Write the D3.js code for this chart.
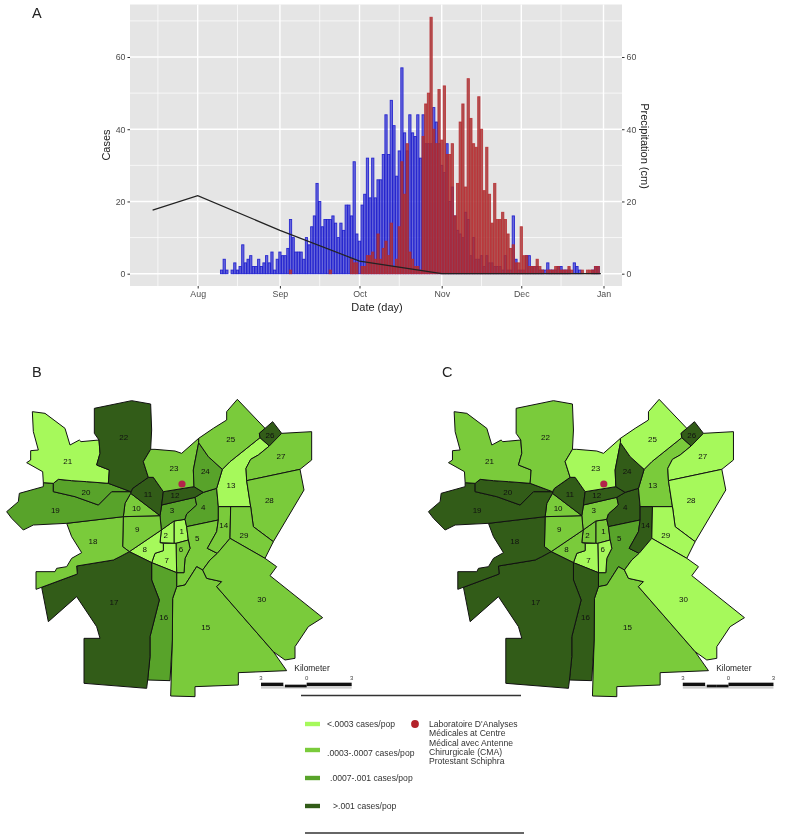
<!DOCTYPE html>
<html><head><meta charset="utf-8"><style>html,body{margin:0;padding:0;background:#fff}svg{display:block;filter:blur(.3px)}text{font-family:"Liberation Sans",Arial,sans-serif}</style>
<script src="https://cdn.jsdelivr.net/npm/d3@7"></script></head><body><script>
// daily counts; index 0 = first day of each array's start date
const blueStart = "2016-08-10";
const blueCases = [1,4,1,0,1,3,1,2,8,3,4,5,2,2,4,2,3,5,3,6,1,4,6,5,5,7,15,10,6,6,6,4,10,8,13,16,25,20,13,15,15,15,16,14,10,14,12,19,19,16,31,11,9,19,22,32,21,32,21,26,
 26,33,44,33,48,41,27,34,57,39,34,44,39,38,44,32,44,36,36,36,46,42,36,30,28,36,20,24,16,12,11,10,17,15,5,10,4,4,5,2,5,3,3,2,2,2,1,5,1,1,16,4,1,1,1,5,5,2,2,2,1,1,1,3,1,1,1,2,2,1,1,1,0,3,2,1,0,0,0,0,1,2,2];
const redStart = "2016-09-05";
const redCases = [1,0,0,0,0,0,0,0,0,0,0,0,0,0,0,1,0,0,0,0,0,0,0,4,3,3,0,2,2,5,5,6,4,11,4,7,9,5,14,2,4,13,31,22,36,6,4,2,2,1,
 38,47,50,71,40,36,51,37,52,33,33,36,16,25,42,47,24,54,43,36,35,49,40,23,35,22,14,25,15,15,17,15,11,7,8,3,3,13,5,5,2,2,2,4,2,1,0,1,1,1,2,2,1,1,1,2,1,0,0,0,1,0,1,1,1,2,2];
const rainDates = ["2016-07-15","2016-08-01","2016-09-01","2016-10-01","2016-11-01","2016-12-31"];
const rainValues = [17.6,21.6,12,3.5,0,0];
const yTicks = [0,20,40,60];
const yMinor = [10,30,50,70];
const monthTicks = ["2016-08-01","2016-09-01","2016-10-01","2016-11-01","2016-12-01","2017-01-01"];
const monthMinor = ["2016-07-17","2016-08-16","2016-09-16","2016-10-16","2016-11-16","2016-12-16"];

// district outlines, traced in map units
const districtIds = d3.range(1,31);
const districtShapes = {
1:[[522,393],[555,388],[560,410],[565,450],[528,460],[522,460]],
2:[[522,393],[522,460],[480,458],[484,420]],
3:[[485,345],[585,322],[590,345],[560,372],[555,388],[522,393],[484,420],[480,377]],
4:[[610,307],[650,295],[655,350],[655,390],[560,410],[555,388],[560,372],[590,345],[585,322]],
5:[[560,410],[655,390],[650,425],[622,475],[652,490],[630,510],[608,540],[590,530],[555,585],[530,590],[530,548],[552,548],[555,505],[570,475],[565,450]],
6:[[528,460],[565,450],[570,475],[555,505],[552,548],[530,548]],
7:[[490,460],[522,460],[528,460],[530,548],[455,518],[465,490],[490,482]],
8:[[484,420],[480,458],[490,460],[490,482],[465,490],[455,518],[388,485]],
9:[[370,380],[480,377],[484,420],[388,485],[368,470]],
10:[[392,310],[480,377],[370,380],[375,340]],
11:[[398,295],[445,262],[460,262],[490,305],[485,345],[480,377],[392,310]],
12:[[490,305],[582,290],[610,307],[585,322],[485,345]],
13:[[780,143],[808,168],[775,195],[752,208],[738,235],[740,272],[752,350],[655,350],[650,295],[667,238],[690,215]],
14:[[655,350],[692,350],[690,445],[652,490],[622,475],[650,425],[655,390]],
15:[[530,590],[555,585],[590,530],[608,540],[620,565],[665,575],[650,590],[820,785],[860,842],[715,848],[715,885],[585,890],[585,920],[512,918],[517,750],[518,625]],
16:[[455,518],[530,548],[530,590],[518,625],[517,750],[510,872],[443,870],[450,800],[450,740],[478,630],[455,570]],
17:[[388,485],[455,518],[455,570],[478,630],[450,740],[450,800],[443,870],[440,895],[252,880],[252,745],[300,745],[290,710],[230,620],[145,695],[125,592],[232,552],[230,528],[340,510],[360,500]],
18:[[200,400],[370,380],[368,470],[388,485],[360,500],[340,510],[230,528],[232,552],[108,598],[108,545],[165,545],[170,535],[200,530],[215,505],[245,488],[215,440]],
19:[[20,365],[55,335],[58,310],[130,290],[130,278],[160,280],[160,305],[225,320],[295,345],[335,305],[392,305],[392,310],[375,340],[370,380],[200,400],[100,405],[70,420],[35,385]],
20:[[160,280],[175,268],[215,272],[260,275],[325,280],[392,305],[335,305],[295,345],[225,320],[160,305]],
21:[[97,65],[135,70],[195,115],[210,165],[238,150],[243,155],[297,150],[300,190],[290,225],[328,240],[325,280],[260,275],[215,272],[175,268],[160,280],[130,278],[128,245],[80,218],[92,210],[92,182],[115,180],[100,125]],
22:[[283,55],[395,32],[452,42],[455,120],[452,178],[430,215],[445,262],[398,295],[392,305],[325,280],[328,240],[290,225],[300,190],[297,150],[283,130]],
23:[[430,215],[452,178],[465,178],[525,183],[545,190],[596,145],[596,158],[580,240],[582,290],[490,305],[460,262],[445,262]],
24:[[596,158],[625,200],[667,238],[650,295],[610,307],[582,290],[580,240]],
25:[[596,145],[640,115],[680,90],[680,65],[712,28],[795,115],[778,130],[780,143],[690,215],[667,238],[625,200],[596,158]],
26:[[818,95],[845,130],[808,168],[780,143],[778,130]],
27:[[845,130],[935,125],[935,210],[900,238],[740,272],[738,235],[752,208],[775,195],[808,168]],
28:[[740,272],[900,238],[912,300],[820,455],[760,410],[752,350]],
29:[[692,350],[752,350],[760,410],[820,455],[795,505],[690,445]],
30:[[690,445],[795,505],[830,530],[810,557],[968,683],[925,710],[885,770],[885,805],[855,810],[820,785],[650,590],[665,575],[620,565],[608,540],[630,510],[652,490]]
};
const labelSpots = {1:[545,424],2:[497,436],3:[516,361],4:[610,353],5:[592,445],6:[543,478],7:[500,512],8:[434,477],9:[412,417],10:[409,355],11:[444,313],12:[525,316],13:[693,287],14:[671,405],15:[617,712],16:[491,682],17:[342,637],18:[279,453],19:[166,361],20:[258,306],21:[203,215],22:[371,143],23:[522,235],24:[616,243],25:[692,148],26:[810,137],27:[843,199],28:[808,331],29:[732,437],30:[785,627]};
const classesB = [0,0,2,2,1,1,0,0,1,1,3,3,0,1,1,2,3,1,2,2,0,3,1,2,1,3,1,1,1,1];
const classesC = [1,1,1,3,2,0,0,1,1,1,3,3,1,3,1,3,3,3,3,3,1,1,0,3,0,3,0,0,0,0];
const legendColors = ["#a6f95b","#7acb3b","#58a32a","#325c18"];
const legendLabels = ["<.0003 cases/pop",".0003-.0007 cases/pop",".0007-.001 cases/pop",">.001 cases/pop"];
const labName = ["Laboratoire D'Analyses","Médicales at Centre","Médical avec Antenne","Chirurgicale (CMA)","Protestant Schiphra"];
const labSite = [546,282];
const scaleLabels = ["3","0","3"];

const W=787,H=835;
const svg=d3.select("body").append("svg").attr("width",W).attr("height",H);
const pd=d3.utcParse("%Y-%m-%d");
const L=130,R=622,T=4.5,B=286;
const x=d3.scaleUtc().domain([pd("2016-08-01"),pd("2017-01-01")]).range([197.7,603.5]);
const y=d3.scaleLinear().domain([0,60]).range([273.7,57]);
const dayW=x(pd("2016-08-02"))-x(pd("2016-08-01"));
const G="#4d4d4d";

svg.append("rect").attr("x",L).attr("y",T).attr("width",R-L).attr("height",B-T).attr("fill","#e5e5e5");
const grid=svg.append("g").attr("stroke","#fff");
grid.selectAll(".a").data(yMinor).join("line").attr("x1",L).attr("x2",R).attr("y1",d=>y(d)).attr("y2",d=>y(d)).attr("stroke-width",.7);
grid.selectAll(".b").data(monthMinor).join("line").attr("y1",T).attr("y2",B).attr("x1",d=>x(pd(d))).attr("x2",d=>x(pd(d))).attr("stroke-width",.7);
grid.selectAll(".c").data(yTicks).join("line").attr("x1",L).attr("x2",R).attr("y1",d=>y(d)).attr("y2",d=>y(d)).attr("stroke-width",1.4);
grid.selectAll(".d").data(monthTicks).join("line").attr("y1",T).attr("y2",B).attr("x1",d=>x(pd(d))).attr("x2",d=>x(pd(d))).attr("stroke-width",1.4);

function bars(vals,start,fill,stroke){
  const s=pd(start);
  svg.append("g").selectAll("rect").data(vals.map((v,i)=>[d3.utcDay.offset(s,i),v]).filter(d=>d[1]>0)).join("rect")
   .attr("x",d=>x(d[0])-dayW/2+.2).attr("width",dayW-.4)
   .attr("y",d=>y(d[1])).attr("height",d=>y(0)-y(d[1]))
   .attr("fill",fill).attr("stroke",stroke).attr("stroke-width",.9);
}
bars(blueCases,blueStart,"rgba(50,50,215,.7)","rgba(25,25,205,.9)");
bars(redCases,redStart,"rgba(165,50,50,.82)","rgba(185,40,45,.85)");

const line=d3.line().x((d,i)=>x(pd(rainDates[i]))).y(d=>y(d));
svg.append("path").attr("d",line(rainValues)).attr("fill","none").attr("stroke","#222").attr("stroke-width",1.2);

function styleAxis(g){g.select(".domain").remove();g.selectAll("line").attr("stroke","#333");g.selectAll("text").attr("fill",G).attr("font-size",8.8);}
svg.append("g").attr("transform",`translate(${L},0)`).call(d3.axisLeft(y).tickValues(yTicks).tickSize(2.5).tickPadding(2)).call(styleAxis);
svg.append("g").attr("transform",`translate(${R},0)`).call(d3.axisRight(y).tickValues(yTicks).tickSize(2.5).tickPadding(2)).call(styleAxis);
svg.append("g").attr("transform",`translate(0,${B})`).call(d3.axisBottom(x).tickValues(monthTicks.map(pd)).tickFormat(d3.utcFormat("%b")).tickSize(2.5).tickPadding(2)).call(styleAxis);

const title=(t,px,py,fs,rot)=>svg.append("text").attr("transform",`translate(${px},${py})`+(rot?` rotate(${rot})`:"")).attr("text-anchor","middle").attr("font-size",fs).attr("fill","#222").text(t);
title("Cases",110,145,11,-90);
title("Precipitation (cm)",641,146,11,90);
title("Date (day)",377,311,11,0);
svg.append("text").attr("x",32).attr("y",18).attr("font-size",14.5).attr("fill","#222").text("A");
svg.append("text").attr("x",32).attr("y",377).attr("font-size",14.5).attr("fill","#222").text("B");
svg.append("text").attr("x",442).attr("y",377).attr("font-size",14.5).attr("fill","#222").text("C");

function map(offset,classes){
  const mx=d3.scaleLinear().domain([0,300]).range([offset,offset+100]);
  const my=d3.scaleLinear().domain([0,300]).range([390,490]);
  const path=d3.line().x(d=>mx(d[0])).y(d=>my(d[1])).curve(d3.curveLinearClosed);
  const g=svg.append("g");
  g.selectAll("path").data(districtIds).join("path").attr("d",d=>path(districtShapes[d]))
   .attr("fill",d=>legendColors[classes[d-1]]).attr("stroke","#111").attr("stroke-width",1).attr("stroke-linejoin","round");
  g.selectAll("text").data(districtIds).join("text").attr("x",d=>mx(labelSpots[d][0])).attr("y",d=>my(labelSpots[d][1])+2.8)
   .attr("text-anchor","middle").attr("font-size",8).attr("fill","#111").text(d=>d);
  g.append("circle").attr("cx",mx(labSite[0])).attr("cy",my(labSite[1])).attr("r",3.6).attr("fill","#b3234a");
  g.append("text").attr("x",mx(883)).attr("y",my(843)).attr("font-size",8.4).attr("fill","#222").text("Kilometer");
  const sb=[[783,850,878,888],[855,885,884,892],[885,920,884,892],[920,1055,878,888]];
  g.append("rect").attr("x",mx(783)).attr("y",my(886)).attr("width",mx(1055)-mx(783)).attr("height",my(896)-my(886)).attr("fill","#cfcfcf");
  g.selectAll(".sb").data(sb).join("rect").attr("x",d=>mx(d[0])).attr("width",d=>mx(d[1])-mx(d[0])).attr("y",d=>my(d[2])).attr("height",d=>my(d[3])-my(d[2])).attr("fill","#111");
  g.selectAll(".sl").data(scaleLabels).join("text").attr("x",(d,i)=>mx([783,920,1055][i])).attr("y",my(871)).attr("text-anchor","middle").attr("font-size",6).attr("fill","#444").text(d=>d);
}
map(0,classesB);
map(421.8,classesC);

svg.append("line").attr("x1",301).attr("x2",521).attr("y1",695.5).attr("y2",695.5).attr("stroke","#333").attr("stroke-width",1.4);
svg.append("line").attr("x1",305).attr("x2",524).attr("y1",833).attr("y2",833).attr("stroke","#333").attr("stroke-width",1.4);
const legY=[724,750,778,806], legTY=[727,756,781,809], legTX=[327,327,330,333];
legendLabels.forEach((t,i)=>{
  svg.append("rect").attr("x",305).attr("y",legY[i]-2.2).attr("width",15).attr("height",4.4).attr("fill",legendColors[i]);
  svg.append("text").attr("x",legTX[i]).attr("y",legTY[i]).attr("font-size",8.6).attr("fill","#333").text(t);
});
svg.append("circle").attr("cx",415).attr("cy",724).attr("r",3.9).attr("fill","#b3222a");
labName.forEach((t,i)=>svg.append("text").attr("x",429).attr("y",727+i*9.25).attr("font-size",8.6).attr("fill","#333").text(t));
</script></body></html>
